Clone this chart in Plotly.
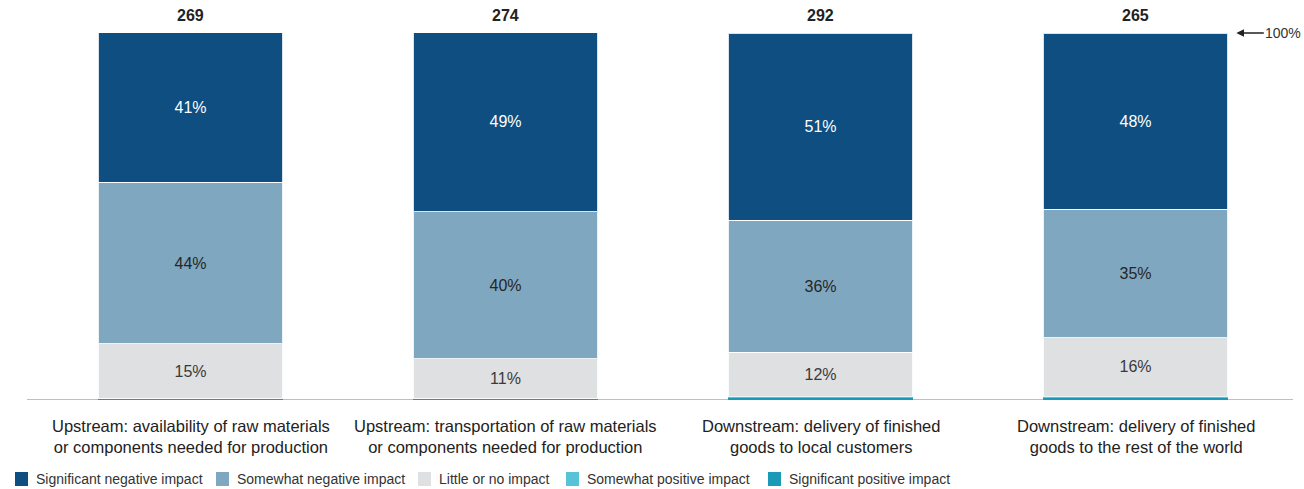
import plotly.graph_objects as go

categories = [
    "Upstream: availability of raw materials<br>or components needed for production",
    "Upstream: transportation of raw materials<br>or components needed for production",
    "Downstream: delivery of finished<br>goods to local customers",
    "Downstream: delivery of finished<br>goods to the rest of the world",
]
totals = [269, 274, 292, 265]
significant_negative = [41, 49, 51, 48]
somewhat_negative = [44, 40, 36, 35]
little_or_none = [15, 11, 12, 16]
somewhat_positive = [0, 0, 0.4, 0.4]
significant_positive = [0.3, 0.3, 0.6, 0.6]

legend_names = ["Significant negative impact", "Somewhat negative impact",
                "Little or no impact", "Somewhat positive impact",
                "Significant positive impact"]

x = list(range(len(categories)))
FONT = "Liberation Sans, Arial, sans-serif"

colors = {
    "Significant positive impact": "#1b9ab8",
    "Somewhat positive impact": "#58c3d6",
    "Little or no impact": "#dfe0e2",
    "Somewhat negative impact": "#7fa7c0",
    "Significant negative impact": "#0e4e80",
}
series = [
    ("Significant positive impact", significant_positive, None),
    ("Somewhat positive impact", somewhat_positive, None),
    ("Little or no impact", little_or_none, "#3a3a3a"),
    ("Somewhat negative impact", somewhat_negative, "#262626"),
    ("Significant negative impact", significant_negative, "#ffffff"),
]

fig = go.Figure()
for name, vals, tcolor in series:
    fig.add_trace(go.Bar(
        x=x, y=vals, name=name,
        marker=dict(color=colors[name],
                    line=dict(color="rgba(255,255,255,0.85)", width=1 if tcolor else 0)),
        width=0.587,
        text=[f"{v:g}%" for v in vals] if tcolor else None,
        textposition="inside" if tcolor else "none",
        insidetextanchor="middle",
        textangle=0,
        textfont=dict(color=tcolor or "#000", size=16, family=FONT),
        hoverinfo="skip",
        showlegend=False,
    ))

annotations = []
for xi, t in zip(x, totals):
    annotations.append(dict(x=xi, y=100, xref="x", yref="y", text=f"<b>{t}</b>",
                            showarrow=False, yanchor="bottom", yshift=7,
                            font=dict(size=16, color="#222", family=FONT)))
for xi, c in zip(x, categories):
    annotations.append(dict(x=xi, y=0, xref="x", yref="y", text=c,
                            showarrow=False, yanchor="top", yshift=-15,
                            font=dict(size=16.5, color="#222", family=FONT)))
annotations.append(dict(x=3.32, y=100, xref="x", yref="y", text="100%",
                        showarrow=True, ax=47, ay=0, arrowhead=2, arrowsize=1.1,
                        arrowwidth=1.4, arrowcolor="#222", standoff=0,
                        font=dict(size=14, color="#333", family=FONT)))

# legend built from squares + labels (positions in pixels of the 1304x489 canvas)
W, H = 1304.0, 489.0
ML, MR, MT, MB = 33, 11, 33, 89
pw, ph = W - ML - MR, H - MT - MB
def px(xp):
    return (xp - ML) / pw
def py(yp):
    return (H - MB - yp) / ph

legend_x = [15, 216, 418, 566, 768]
shapes = [dict(type="line", xref="paper", yref="y", x0=px(27), x1=px(1293),
               y0=0, y1=0, line=dict(color="#aaaaaa", width=1.5), layer="below")]
for name, lx in zip(legend_names, legend_x):
    shapes.append(dict(type="rect", xref="paper", yref="paper",
                       x0=px(lx), x1=px(lx + 13), y0=py(472), y1=py(486),
                       fillcolor=colors[name], line=dict(width=0)))
    annotations.append(dict(x=px(lx + 19), y=py(479), xref="paper", yref="paper",
                            text=name, showarrow=False, xanchor="left", yanchor="middle",
                            font=dict(size=14, color="#333", family=FONT)))

fig.update_layout(
    barmode="stack",
    width=1304, height=489,
    margin=dict(l=ML, r=MR, t=MT, b=MB),
    paper_bgcolor="white", plot_bgcolor="white",
    font=dict(family=FONT, color="#333"),
    xaxis=dict(range=[-0.5, 3.5], showticklabels=False, showgrid=False,
               zeroline=False, showline=False, ticks=""),
    yaxis=dict(range=[0, 100], visible=False),
    showlegend=False,
    annotations=annotations,
    shapes=shapes,
)

fig.write_html("out.html")
